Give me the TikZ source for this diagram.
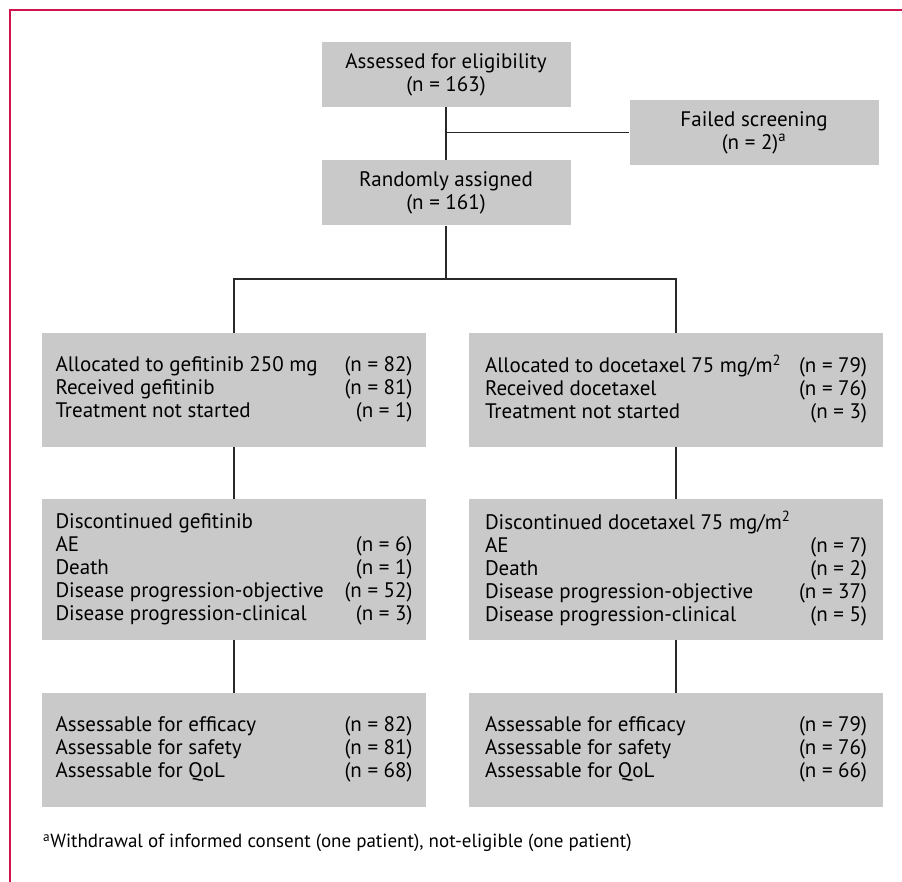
\documentclass[tikz,border=0pt]{standalone}
\usepackage{fontspec}
\setmainfont{PT Sans}
\definecolor{boxgray}{RGB}{201,201,201}
\definecolor{framered}{RGB}{206,20,78}
\definecolor{linegray}{RGB}{40,40,40}

\begin{document}
\begin{tikzpicture}[x=1pt, y=-1pt,
    box/.style={fill=boxgray, inner sep=0pt, font=\fontsize{21}{23}\selectfont},
    headbox/.style={box, minimum width=249, minimum height=65, align=center},
    armbox/.style={box, minimum height=114},
    link/.style={draw=linegray, line width=1.8pt}]
                        \useasboundingbox (0, 0) rectangle (902, 882);
                        \draw[framered, line width=1.5pt] (902, 10) -- (10, 10) -- (10, 882);

                        \node[headbox] (assess) at (446, 74.5) {Assessed for eligibility\\(n = 163)};
                        \node[headbox] (fail) at (754, 132.5) {Failed screening\\(n = 2)\textsuperscript{a}};
                        \node[headbox] (rand) at (446, 193) {Randomly assigned\\(n = 161)};
                        \coordinate (split) at (446, 279);

                        \node[armbox, minimum width=384] (gefA) at (234, 390) {%
                            \begin{tabular*}{357pt}{@{}l@{\extracolsep{\fill}}r@{}}
                            Allocated to gefitinib 250 mg & (n = 82)\\
                            Received gefitinib & (n = 81)\\
                            Treatment not started & (n = 1)
                            \end{tabular*}};
                        \node[armbox, minimum width=414] (docA) at (676, 390) {%
                            \begin{tabular*}{382pt}{@{}l@{\extracolsep{\fill}}r@{}}
                            Allocated to docetaxel 75 mg/m\textsuperscript{2} & (n = 79)\\
                            Received docetaxel & (n = 76)\\
                            Treatment not started & (n = 3)
                            \end{tabular*}};
                        \node[armbox, minimum width=384, minimum height=141] (gefB) at (234, 569.5) {%
                            \begin{tabular*}{357pt}{@{}l@{\extracolsep{\fill}}r@{}}
                            Discontinued gefitinib & \\
                            AE & (n = 6)\\
                            Death & (n = 1)\\
                            Disease progression-objective & (n = 52)\\
                            Disease progression-clinical & (n = 3)
                            \end{tabular*}};
                        \node[armbox, minimum width=414, minimum height=141] (docB) at (676, 569.5) {%
                            \begin{tabular*}{382pt}{@{}l@{\extracolsep{\fill}}r@{}}
                            Discontinued docetaxel 75 mg/m\textsuperscript{2} & \\
                            AE & (n = 7)\\
                            Death & (n = 2)\\
                            Disease progression-objective & (n = 37)\\
                            Disease progression-clinical & (n = 5)
                            \end{tabular*}};
                        \node[armbox, minimum width=384] (gefC) at (234, 750) {%
                            \begin{tabular*}{357pt}{@{}l@{\extracolsep{\fill}}r@{}}
                            Assessable for efficacy & (n = 82)\\
                            Assessable for safety & (n = 81)\\
                            Assessable for QoL & (n = 68)
                            \end{tabular*}};
                        \node[armbox, minimum width=414] (docC) at (676, 750) {%
                            \begin{tabular*}{382pt}{@{}l@{\extracolsep{\fill}}r@{}}
                            Assessable for efficacy & (n = 79)\\
                            Assessable for safety & (n = 76)\\
                            Assessable for QoL & (n = 66)
                            \end{tabular*}};

                        \node[anchor=west, inner sep=0pt, font=\fontsize{19}{21}\selectfont] (note) at (43, 843)
                            {\textsuperscript{a}Withdrawal of informed consent (one patient), not-eligible (one patient)};

                        \draw[link]
                        (assess) -- (rand)
                        (assess.south |- fail.west) -- (fail.west)
                        (rand) -- (split)
                        (gefA.north) |- (split) -| (docA.north)
                        (gefA) -- (gefB)
                        (gefB) -- (gefC)
                        (docA) -- (docB)
                        (docB) -- (docC);
                    \end{tikzpicture}
\end{document}
